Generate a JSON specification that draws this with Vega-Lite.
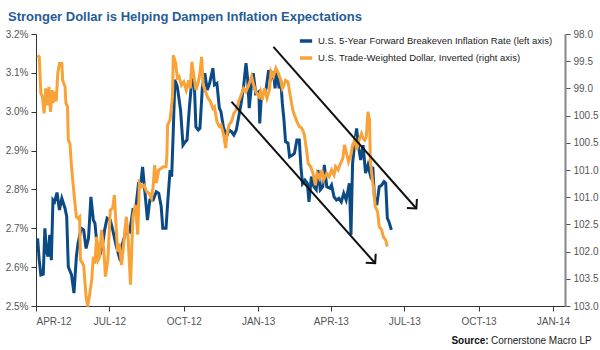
{
"$schema":"https://vega.github.io/schema/vega-lite/v6.json",
"width":529,"height":272,
"autosize":{"type":"none"},
"padding":{"left":36,"top":34,"right":35,"bottom":44},
"background":"white",
"title":{"text":"Stronger Dollar is Helping Dampen Inflation Expectations","anchor":"start","frame":"group","dx":-28,"offset":5,"font":"Liberation Sans","fontSize":13,"fontWeight":"bold","color":"#1f5c99"},
"config":{"view":{"stroke":null},"font":"Liberation Sans"},
"datasets":{
"blue":[
{"d":"2012-04-03","v":2.674},{"d":"2012-04-05","v":2.618},{"d":"2012-04-07","v":2.580},{"d":"2012-04-10","v":2.582},{"d":"2012-04-12","v":2.700},{"d":"2012-04-14","v":2.640},{"d":"2012-04-16","v":2.627},{"d":"2012-04-18","v":2.683},{"d":"2012-04-20","v":2.618},{"d":"2012-04-22","v":2.773},{"d":"2012-04-24","v":2.768},{"d":"2012-04-27","v":2.792},{"d":"2012-04-30","v":2.747},{"d":"2012-05-03","v":2.777},{"d":"2012-05-07","v":2.751},{"d":"2012-05-09","v":2.730},{"d":"2012-05-11","v":2.601},{"d":"2012-05-15","v":2.580},{"d":"2012-05-18","v":2.533},{"d":"2012-05-21","v":2.627},{"d":"2012-05-23","v":2.661},{"d":"2012-05-27","v":2.700},{"d":"2012-05-30","v":2.696},{"d":"2012-06-02","v":2.648},{"d":"2012-06-05","v":2.674},{"d":"2012-06-08","v":2.781},{"d":"2012-06-11","v":2.721},{"d":"2012-06-13","v":2.713},{"d":"2012-06-17","v":2.623},{"d":"2012-06-20","v":2.636},{"d":"2012-06-23","v":2.666},{"d":"2012-06-25","v":2.696},{"d":"2012-06-28","v":2.726},{"d":"2012-07-02","v":2.721},{"d":"2012-07-05","v":2.696},{"d":"2012-07-09","v":2.657},{"d":"2012-07-13","v":2.627},{"d":"2012-07-17","v":2.660},{"d":"2012-07-22","v":2.696},{"d":"2012-07-26","v":2.691},{"d":"2012-07-30","v":2.747},{"d":"2012-08-02","v":2.743},{"d":"2012-08-06","v":2.816},{"d":"2012-08-09","v":2.820},{"d":"2012-08-11","v":2.858},{"d":"2012-08-14","v":2.790},{"d":"2012-08-17","v":2.721},{"d":"2012-08-20","v":2.773},{"d":"2012-08-24","v":2.773},{"d":"2012-08-28","v":2.794},{"d":"2012-08-31","v":2.790},{"d":"2012-09-03","v":2.756},{"d":"2012-09-05","v":2.700},{"d":"2012-09-09","v":2.700},{"d":"2012-09-11","v":2.764},{"d":"2012-09-14","v":2.850},{"d":"2012-09-16","v":2.833},{"d":"2012-09-18","v":2.953},{"d":"2012-09-20","v":3.082},{"d":"2012-09-23","v":3.064},{"d":"2012-09-27","v":3.004},{"d":"2012-09-30","v":2.914},{"d":"2012-10-03","v":2.923},{"d":"2012-10-05","v":2.927},{"d":"2012-10-08","v":3.013},{"d":"2012-10-11","v":3.082},{"d":"2012-10-14","v":3.073},{"d":"2012-10-16","v":2.961},{"d":"2012-10-19","v":2.953},{"d":"2012-10-21","v":2.957},{"d":"2012-10-24","v":3.064},{"d":"2012-10-27","v":3.099},{"d":"2012-10-30","v":3.056},{"d":"2012-11-02","v":3.073},{"d":"2012-11-06","v":3.112},{"d":"2012-11-08","v":3.069},{"d":"2012-11-11","v":3.073},{"d":"2012-11-14","v":3.009},{"d":"2012-11-16","v":3.000},{"d":"2012-11-19","v":2.961},{"d":"2012-11-23","v":2.936},{"d":"2012-11-26","v":2.953},{"d":"2012-11-29","v":2.949},{"d":"2012-12-02","v":2.940},{"d":"2012-12-05","v":2.953},{"d":"2012-12-08","v":2.987},{"d":"2012-12-11","v":3.022},{"d":"2012-12-14","v":3.064},{"d":"2012-12-17","v":3.125},{"d":"2012-12-19","v":3.086},{"d":"2012-12-21","v":3.009},{"d":"2012-12-24","v":3.073},{"d":"2012-12-26","v":3.099},{"d":"2012-12-29","v":3.047},{"d":"2013-01-02","v":3.052},{"d":"2013-01-03","v":2.970},{"d":"2013-01-05","v":3.039},{"d":"2013-01-08","v":3.047},{"d":"2013-01-11","v":3.060},{"d":"2013-01-14","v":3.107},{"d":"2013-01-17","v":3.086},{"d":"2013-01-20","v":3.103},{"d":"2013-01-22","v":3.060},{"d":"2013-01-24","v":3.107},{"d":"2013-01-27","v":3.060},{"d":"2013-01-29","v":3.082},{"d":"2013-01-31","v":3.022},{"d":"2013-02-02","v":2.979},{"d":"2013-02-04","v":2.923},{"d":"2013-02-07","v":2.919},{"d":"2013-02-09","v":2.884},{"d":"2013-02-13","v":2.889},{"d":"2013-02-15","v":2.893},{"d":"2013-02-18","v":2.927},{"d":"2013-02-21","v":2.927},{"d":"2013-02-23","v":2.858},{"d":"2013-02-25","v":2.815},{"d":"2013-02-28","v":2.824},{"d":"2013-03-03","v":2.816},{"d":"2013-03-05","v":2.768},{"d":"2013-03-08","v":2.833},{"d":"2013-03-11","v":2.807},{"d":"2013-03-14","v":2.799},{"d":"2013-03-16","v":2.850},{"d":"2013-03-19","v":2.799},{"d":"2013-03-22","v":2.807},{"d":"2013-03-24","v":2.863},{"d":"2013-03-27","v":2.807},{"d":"2013-03-31","v":2.803},{"d":"2013-04-02","v":2.811},{"d":"2013-04-05","v":2.781},{"d":"2013-04-08","v":2.773},{"d":"2013-04-11","v":2.777},{"d":"2013-04-14","v":2.768},{"d":"2013-04-17","v":2.790},{"d":"2013-04-20","v":2.773},{"d":"2013-04-24","v":2.816},{"d":"2013-04-26","v":2.683},{"d":"2013-04-28","v":2.867},{"d":"2013-05-01","v":2.927},{"d":"2013-05-03","v":2.957},{"d":"2013-05-05","v":2.914},{"d":"2013-05-08","v":2.876},{"d":"2013-05-11","v":2.914},{"d":"2013-05-14","v":2.842},{"d":"2013-05-17","v":2.863},{"d":"2013-05-20","v":2.837},{"d":"2013-05-23","v":2.858},{"d":"2013-05-25","v":2.781},{"d":"2013-05-28","v":2.760},{"d":"2013-05-31","v":2.807},{"d":"2013-06-03","v":2.811},{"d":"2013-06-06","v":2.820},{"d":"2013-06-08","v":2.816},{"d":"2013-06-10","v":2.726},{"d":"2013-06-12","v":2.717},{"d":"2013-06-15","v":2.696}
],
"orange":[
{"d":"2012-04-03","r":98.39},{"d":"2012-04-05","r":98.42},{"d":"2012-04-07","r":99.09},{"d":"2012-04-09","r":99.15},{"d":"2012-04-11","r":99.46},{"d":"2012-04-13","r":99.00},{"d":"2012-04-15","r":99.31},{"d":"2012-04-17","r":98.97},{"d":"2012-04-19","r":99.43},{"d":"2012-04-21","r":99.03},{"d":"2012-04-22","r":99.27},{"d":"2012-04-24","r":99.06},{"d":"2012-04-26","r":99.24},{"d":"2012-04-28","r":98.72},{"d":"2012-04-30","r":98.54},{"d":"2012-05-03","r":98.54},{"d":"2012-05-04","r":98.85},{"d":"2012-05-07","r":98.97},{"d":"2012-05-08","r":99.27},{"d":"2012-05-10","r":99.34},{"d":"2012-05-11","r":99.95},{"d":"2012-05-13","r":100.01},{"d":"2012-05-15","r":100.44},{"d":"2012-05-18","r":100.93},{"d":"2012-05-21","r":101.36},{"d":"2012-05-23","r":101.39},{"d":"2012-05-25","r":101.36},{"d":"2012-05-26","r":102.15},{"d":"2012-05-30","r":102.25},{"d":"2012-06-02","r":102.83},{"d":"2012-06-04","r":103.01},{"d":"2012-06-06","r":102.83},{"d":"2012-06-09","r":102.52},{"d":"2012-06-11","r":102.09},{"d":"2012-06-13","r":102.22},{"d":"2012-06-15","r":101.73},{"d":"2012-06-17","r":102.15},{"d":"2012-06-19","r":102.09},{"d":"2012-06-21","r":101.60},{"d":"2012-06-24","r":101.97},{"d":"2012-06-26","r":102.46},{"d":"2012-06-29","r":102.15},{"d":"2012-07-02","r":101.24},{"d":"2012-07-05","r":101.20},{"d":"2012-07-07","r":100.96},{"d":"2012-07-09","r":101.48},{"d":"2012-07-11","r":102.00},{"d":"2012-07-13","r":101.85},{"d":"2012-07-16","r":102.25},{"d":"2012-07-19","r":101.79},{"d":"2012-07-20","r":101.60},{"d":"2012-07-22","r":101.36},{"d":"2012-07-24","r":101.73},{"d":"2012-07-27","r":102.61},{"d":"2012-07-30","r":101.36},{"d":"2012-08-02","r":101.14},{"d":"2012-08-05","r":101.69},{"d":"2012-08-07","r":100.74},{"d":"2012-08-10","r":100.81},{"d":"2012-08-13","r":100.78},{"d":"2012-08-16","r":100.90},{"d":"2012-08-19","r":100.93},{"d":"2012-08-22","r":101.02},{"d":"2012-08-24","r":100.81},{"d":"2012-08-26","r":100.41},{"d":"2012-08-28","r":100.74},{"d":"2012-08-31","r":100.50},{"d":"2012-09-03","r":100.47},{"d":"2012-09-06","r":100.44},{"d":"2012-09-09","r":100.44},{"d":"2012-09-10","r":100.26},{"d":"2012-09-11","r":99.67},{"d":"2012-09-14","r":99.58},{"d":"2012-09-17","r":99.15},{"d":"2012-09-18","r":98.39},{"d":"2012-09-21","r":98.54},{"d":"2012-09-23","r":98.81},{"d":"2012-09-25","r":98.78},{"d":"2012-09-28","r":98.94},{"d":"2012-10-01","r":98.88},{"d":"2012-10-04","r":99.03},{"d":"2012-10-07","r":98.85},{"d":"2012-10-09","r":99.00},{"d":"2012-10-11","r":98.51},{"d":"2012-10-13","r":98.72},{"d":"2012-10-16","r":99.03},{"d":"2012-10-19","r":98.88},{"d":"2012-10-21","r":98.72},{"d":"2012-10-23","r":98.42},{"d":"2012-10-25","r":98.94},{"d":"2012-10-28","r":99.06},{"d":"2012-10-31","r":99.18},{"d":"2012-11-03","r":99.24},{"d":"2012-11-06","r":99.37},{"d":"2012-11-08","r":99.34},{"d":"2012-11-11","r":99.61},{"d":"2012-11-14","r":99.70},{"d":"2012-11-16","r":99.67},{"d":"2012-11-19","r":99.83},{"d":"2012-11-22","r":100.10},{"d":"2012-11-23","r":99.89},{"d":"2012-11-26","r":99.67},{"d":"2012-11-29","r":99.61},{"d":"2012-12-02","r":99.46},{"d":"2012-12-05","r":99.40},{"d":"2012-12-08","r":99.24},{"d":"2012-12-11","r":99.12},{"d":"2012-12-14","r":99.00},{"d":"2012-12-17","r":99.06},{"d":"2012-12-21","r":98.91},{"d":"2012-12-24","r":98.78},{"d":"2012-12-26","r":98.91},{"d":"2012-12-29","r":99.06},{"d":"2013-01-02","r":99.15},{"d":"2013-01-04","r":99.06},{"d":"2013-01-06","r":99.21},{"d":"2013-01-09","r":99.00},{"d":"2013-01-12","r":99.18},{"d":"2013-01-15","r":99.03},{"d":"2013-01-17","r":98.69},{"d":"2013-01-20","r":98.78},{"d":"2013-01-23","r":98.63},{"d":"2013-01-26","r":98.72},{"d":"2013-01-29","r":98.85},{"d":"2013-01-31","r":99.00},{"d":"2013-02-02","r":98.94},{"d":"2013-02-04","r":98.85},{"d":"2013-02-07","r":98.88},{"d":"2013-02-10","r":99.15},{"d":"2013-02-13","r":99.40},{"d":"2013-02-15","r":99.49},{"d":"2013-02-18","r":99.61},{"d":"2013-02-21","r":99.70},{"d":"2013-02-24","r":99.73},{"d":"2013-02-27","r":99.83},{"d":"2013-03-02","r":100.13},{"d":"2013-03-04","r":100.38},{"d":"2013-03-07","r":100.44},{"d":"2013-03-10","r":100.56},{"d":"2013-03-13","r":100.78},{"d":"2013-03-15","r":100.56},{"d":"2013-03-18","r":100.65},{"d":"2013-03-21","r":100.50},{"d":"2013-03-23","r":100.68},{"d":"2013-03-27","r":100.56},{"d":"2013-03-30","r":100.62},{"d":"2013-04-02","r":100.50},{"d":"2013-04-05","r":100.59},{"d":"2013-04-07","r":100.44},{"d":"2013-04-10","r":100.50},{"d":"2013-04-13","r":100.38},{"d":"2013-04-16","r":100.28},{"d":"2013-04-18","r":100.04},{"d":"2013-04-20","r":100.16},{"d":"2013-04-23","r":100.35},{"d":"2013-04-26","r":100.22},{"d":"2013-04-28","r":100.04},{"d":"2013-05-01","r":99.95},{"d":"2013-05-03","r":100.13},{"d":"2013-05-06","r":99.95},{"d":"2013-05-09","r":99.83},{"d":"2013-05-11","r":99.92},{"d":"2013-05-13","r":99.95},{"d":"2013-05-15","r":99.89},{"d":"2013-05-17","r":99.43},{"d":"2013-05-19","r":99.58},{"d":"2013-05-20","r":100.32},{"d":"2013-05-22","r":100.62},{"d":"2013-05-24","r":100.84},{"d":"2013-05-26","r":101.17},{"d":"2013-05-29","r":101.27},{"d":"2013-05-31","r":101.54},{"d":"2013-06-03","r":101.60},{"d":"2013-06-05","r":101.73},{"d":"2013-06-08","r":101.79},{"d":"2013-06-10","r":101.91}
],
"arrows":[
{"d1":"2013-01-20","v1":3.167,"d2":"2013-07-16","v2":2.751},
{"d1":"2012-11-29","v1":3.026,"d2":"2013-05-26","v2":2.610}
]
},
"layer":[
{
"data":{"name":"blue"},
"mark":{"type":"line","strokeWidth":3,"interpolate":"linear"},
"encoding":{
"x":{"field":"d","type":"temporal","title":null,
"scale":{"type":"utc","domain":[{"year":2012,"month":4,"date":1,"utc":true},{"year":2014,"month":1,"date":16,"utc":true}]},
"axis":{"values":[{"year":2012,"month":4,"date":1,"utc":true},{"year":2012,"month":7,"date":1,"utc":true},{"year":2012,"month":10,"date":1,"utc":true},{"year":2013,"month":1,"date":1,"utc":true},{"year":2013,"month":4,"date":1,"utc":true},{"year":2013,"month":7,"date":1,"utc":true},{"year":2013,"month":10,"date":1,"utc":true},{"year":2014,"month":1,"date":1,"utc":true}],
"labelExpr":"upper(utcFormat(datum.value,'%b-%y'))","grid":false,"tickSize":5,"domainColor":"#333","tickColor":"#333","labelColor":"#555","labelFontSize":10,"labelPadding":5,"labelFont":"Liberation Sans"}},
"y":{"field":"v","type":"quantitative","title":null,
"scale":{"domain":[2.5,3.2],"nice":false,"zero":false},
"axis":{"orient":"left","values":[2.5,2.6,2.7,2.8,2.9,3.0,3.1,3.2],"labelExpr":"format(datum.value,'.1f')+'%'","grid":false,"tickSize":5,"domainColor":"#333","tickColor":"#333","labelColor":"#555","labelFontSize":10,"labelPadding":3,"labelFont":"Liberation Sans"}},
"color":{"datum":"U.S. 5-Year Forward Breakeven Inflation Rate (left axis)",
"scale":{"domain":["U.S. 5-Year Forward Breakeven Inflation Rate (left axis)","U.S. Trade-Weighted Dollar, Inverted (right axis)"],"range":["#0c4a85","#f8a238"]},
"legend":{"title":null,"orient":"none","legendX":262,"legendY":-1,"symbolType":"stroke","symbolSize":150,"symbolStrokeWidth":3.5,"labelFontSize":9.5,"labelColor":"#222","labelOffset":4,"labelLimit":400,"rowPadding":2,"labelFont":"Liberation Sans"}}
}
},
{
"data":{"name":"orange"},
"mark":{"type":"line","strokeWidth":3},
"encoding":{
"x":{"field":"d","type":"temporal","title":null,"scale":{"type":"utc"}},
"y":{"field":"r","type":"quantitative","title":null,
"scale":{"domain":[98,103],"reverse":true,"nice":false,"zero":false},
"axis":{"orient":"right","values":[98,98.5,99,99.5,100,100.5,101,101.5,102,102.5,103],"labelExpr":"['98.0','99.5','99.0','100.5','100.5','101.0','101.0','102.5','102.0','103.5','103.0'][round((datum.value-98)*2)]","grid":false,"tickSize":5,"domainColor":"#888","domainWidth":2,"tickColor":"#555","labelColor":"#555","labelFontSize":10,"labelPadding":3,"labelFont":"Liberation Sans"}},
"color":{"datum":"U.S. Trade-Weighted Dollar, Inverted (right axis)"}
}
},
{
"layer":[
{
"data":{"name":"arrows"},
"mark":{"type":"rule","strokeWidth":2,"color":"#111"},
"encoding":{
"x":{"field":"d1","type":"temporal","scale":{"type":"utc"}},
"x2":{"field":"d2"},
"y":{"field":"v1","type":"quantitative","scale":{"domain":[2.5,3.2],"nice":false,"zero":false},"axis":null},
"y2":{"field":"v2"}
}
},
{
"data":{"name":"arrows"},
"mark":{"type":"point","shape":"M-1,-1L0,0L-1,1","filled":false,"size":180,"strokeWidth":2,"color":"#111","angle":48,"opacity":1},
"encoding":{
"x":{"field":"d2","type":"temporal","scale":{"type":"utc"}},
"y":{"field":"v2","type":"quantitative","axis":null}
}
},
{
"data":{"values":[{}]},
"mark":{"type":"text","align":"right","baseline":"alphabetic","fontSize":10,"color":"#222","clip":false},
"encoding":{
"x":{"datum":{"year":2014,"month":2,"date":18,"utc":true},"type":"temporal","scale":{"type":"utc"}},
"y":{"datum":2.402,"type":"quantitative","axis":null},
"text":{"value":"Cornerstone Macro LP"}
}
},
{
"data":{"values":[{}]},
"mark":{"type":"text","align":"right","baseline":"alphabetic","fontSize":10,"fontWeight":"bold","color":"#111","dx":-103,"clip":false},
"encoding":{
"x":{"datum":{"year":2014,"month":2,"date":18,"utc":true},"type":"temporal","scale":{"type":"utc"}},
"y":{"datum":2.402,"type":"quantitative","axis":null},
"text":{"value":"Source:"}
}
}
]
}
],
"resolve":{"scale":{"y":"independent"}}
}
